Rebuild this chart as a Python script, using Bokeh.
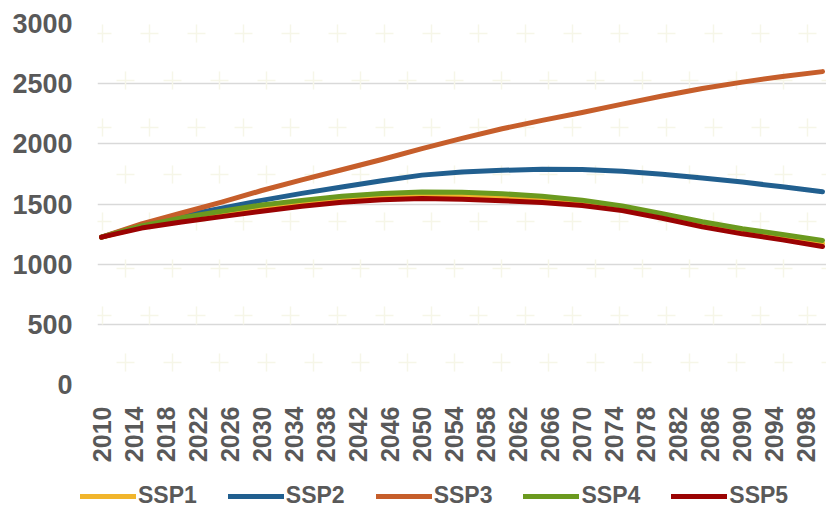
import numpy as np
from bokeh.plotting import figure
from bokeh.layouts import column
from bokeh.models import Range1d, FixedTicker, Legend, LegendItem
from bokeh.embed import file_html
from bokeh.resources import INLINE

# Population projections by Shared Socioeconomic Pathway (5-year steps)
years = [2010, 2015, 2020, 2025, 2030, 2035, 2040, 2045, 2050, 2055,
         2060, 2065, 2070, 2075, 2080, 2085, 2090, 2095, 2100]
ssp1 = [1225, 1308, 1366, 1416, 1464, 1504, 1538, 1559, 1570, 1567,
        1555, 1538, 1510, 1465, 1402, 1332, 1274, 1225, 1172]
ssp2 = [1225, 1325, 1400, 1465, 1530, 1588, 1642, 1693, 1740, 1765,
        1780, 1788, 1786, 1772, 1748, 1716, 1682, 1643, 1602]
ssp3 = [1225, 1335, 1425, 1515, 1612, 1700, 1785, 1870, 1960, 2045,
        2125, 2195, 2260, 2330, 2398, 2460, 2513, 2560, 2600]
ssp4 = [1225, 1318, 1385, 1440, 1492, 1530, 1565, 1588, 1600, 1598,
        1585, 1565, 1532, 1484, 1420, 1352, 1295, 1246, 1197]
ssp5 = [1225, 1300, 1350, 1395, 1440, 1482, 1515, 1535, 1545, 1540,
        1528, 1512, 1488, 1445, 1382, 1310, 1252, 1202, 1147]

series_names = ["SSP1", "SSP2", "SSP3", "SSP4", "SSP5"]
series_colors = ["#F1B52C", "#215F8F", "#C65E2B", "#6B9A1F", "#9B0303"]

tick_years = [2010, 2014, 2018, 2022, 2026, 2030, 2034, 2038, 2042, 2046,
              2050, 2054, 2058, 2062, 2066, 2070, 2074, 2078, 2082, 2086,
              2090, 2094, 2098]
y_ticks = [0, 500, 1000, 1500, 2000, 2500, 3000]

TEXT = "#595959"
FONT = "Liberation Sans"

p = figure(width=826, height=470, output_backend="svg", toolbar_location=None,
           x_range=Range1d(2009.5, 2100.5), y_range=Range1d(0, 3000),
           min_border_left=97, min_border_right=0, min_border_top=23,
           min_border_bottom=86)
p.frame_align = False
p.outline_line_color = None
p.background_fill_color = "white"
p.border_fill_color = "white"

# faint staggered "+" watermark pattern behind the data
px_x, px_y = [], []
for r, yy in enumerate(np.arange(33, 400, 47)):
    off = 0 if r % 2 == 0 else 23
    for xx in np.arange(8 + off, 840, 47):
        px_x.append(xx)
        px_y.append(yy)
px_x = np.array(px_x, dtype=float)
px_y = np.array(px_y, dtype=float)
pat_x = 2009.5 + (px_x - 97) * 91.0 / 729.0
pat_y = (384 - px_y) * 3000.0 / 361.0
p.scatter(pat_x, pat_y, marker="cross", size=18, line_color="#F6F6E8",
          line_width=1.5, fill_color=None)

# axes
p.xaxis.ticker = FixedTicker(ticks=tick_years)
p.xaxis.major_label_overrides = {t: str(t) for t in tick_years}
p.xaxis.major_label_orientation = np.pi / 2
p.yaxis.ticker = FixedTicker(ticks=y_ticks)
for ax in (p.xaxis[0], p.yaxis[0]):
    ax.axis_line_color = None
    ax.major_tick_line_color = None
    ax.minor_tick_line_color = None
    ax.major_label_text_font = FONT
    ax.major_label_text_font_style = "bold"
    ax.major_label_text_color = TEXT
p.yaxis.major_label_text_font_size = "27px"
p.xaxis.major_label_text_font_size = "25px"
p.yaxis.major_label_standoff = 19
p.xaxis.major_label_standoff = 16

p.xgrid.grid_line_color = None
p.ygrid.grid_line_color = "#D9D9D9"
p.ygrid.grid_line_width = 1.6

series = [ssp1, ssp2, ssp3, ssp4, ssp5]
for vals, col in zip(series, series_colors):
    p.line(years, vals, line_color=col, line_width=5, line_cap="round",
           line_join="round")

# legend strip underneath the chart
lg = figure(width=826, height=39, output_backend="svg", toolbar_location=None,
            x_range=Range1d(0, 1), y_range=Range1d(0, 1),
            x_axis_type=None, y_axis_type=None,
            min_border_left=0, min_border_right=0, min_border_top=0,
            min_border_bottom=0)
lg.frame_align = False
lg.grid.grid_line_color = None
lg.outline_line_color = None
lg.border_fill_color = "white"
lg.background_fill_color = "white"
items = []
for name, col in zip(series_names, series_colors):
    # key glyph only; its points sit outside the strip's visible range
    r = lg.line([-2, -1], [-2, -1], line_color=col, line_width=5,
                line_cap="round")
    items.append(LegendItem(label=name, renderers=[r]))
legend = Legend(items=items, orientation="horizontal", location=(80, 0),
                glyph_width=56, glyph_height=20, label_standoff=2, spacing=31,
                padding=0, margin=0,
                label_text_font=FONT, label_text_font_style="bold",
                label_text_color=TEXT, label_text_font_size="23px",
                background_fill_alpha=0, border_line_color=None)
lg.add_layout(legend, "center")

layout = column(p, lg, spacing=0)
open("out.html", "w").write(file_html(layout, INLINE))
